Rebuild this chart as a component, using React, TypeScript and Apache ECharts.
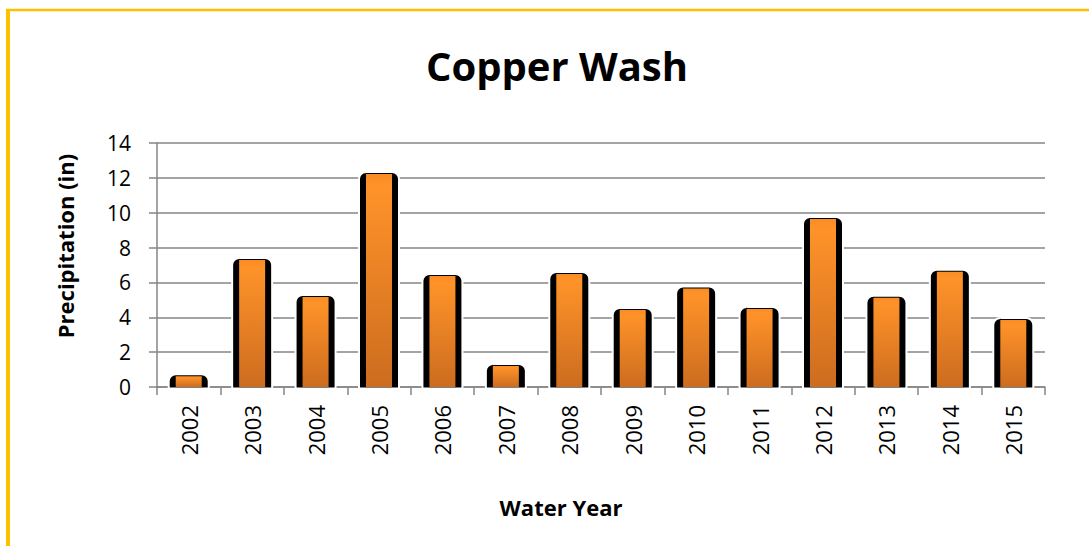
import React, { useEffect, useRef } from "react";
import * as echarts from "echarts";

const categories = ["2002", "2003", "2004", "2005", "2006", "2007", "2008", "2009", "2010", "2011", "2012", "2013", "2014", "2015"];
const precipitation = [0.73, 7.4, 5.28, 12.33, 6.48, 1.32, 6.6, 4.53, 5.76, 4.59, 9.75, 5.24, 6.73, 3.96];
const yTicks = { min: 0, max: 14, interval: 2 };

const FONT = "'Open Sans', 'Liberation Sans', sans-serif";

export default function App() {
  const ref = useRef<HTMLDivElement>(null);
  useEffect(() => {
    if (!ref.current) return;
    const chart = echarts.init(ref.current, null, { renderer: "svg" });
    const data = categories.map((c, i) => [i, precipitation[i]]);
    chart.setOption({
      animation: false,
      backgroundColor: "#ffffff",
      title: {
        text: "Copper Wash",
        left: 552,
        top: 40,
        textAlign: "center",
        textStyle: { fontFamily: FONT, fontWeight: "bold", fontSize: 40, color: "#000" },
      },
      graphic: [
        { type: "line", shape: { x1: 8, y1: 10, x2: 8, y2: 546 }, style: { stroke: "#FFC000", lineWidth: 4 } },
        { type: "line", shape: { x1: 6, y1: 10, x2: 1089, y2: 10 }, style: { stroke: "#FFC000", lineWidth: 2.5 } },
        {
          type: "text",
          x: 65,
          y: 246,
          rotation: Math.PI / 2,
          style: {
            text: "Precipitation (in)",
            fontFamily: FONT,
            fontWeight: "bold",
            fontSize: 22,
            fill: "#000",
            textAlign: "center",
            textVerticalAlign: "middle",
          },
        },
        {
          type: "text",
          x: 561,
          y: 507,
          style: {
            text: "Water Year",
            fontFamily: FONT,
            fontWeight: "bold",
            fontSize: 22,
            fill: "#000",
            textAlign: "center",
            textVerticalAlign: "middle",
          },
        },
      ],
      grid: { left: 157, right: 44, top: 143, bottom: 159 },
      xAxis: {
        type: "category",
        data: categories,
        axisLine: { lineStyle: { color: "#868686", width: 1.5 } },
        axisTick: { show: true, length: 8, lineStyle: { color: "#868686", width: 1.5 } },
        axisLabel: { rotate: 90, margin: 18, fontFamily: FONT, fontSize: 22, color: "#000" },
      },
      yAxis: {
        type: "value",
        min: yTicks.min,
        max: yTicks.max,
        interval: yTicks.interval,
        axisLine: { show: true, lineStyle: { color: "#868686", width: 1.5 } },
        axisTick: { show: true, length: 8, lineStyle: { color: "#868686", width: 1.5 } },
        axisLabel: { margin: 26, fontFamily: FONT, fontSize: 21, color: "#000" },
        splitLine: { lineStyle: { color: "#868686", width: 1.5 } },
      },
      series: [
        {
          type: "custom",
          data,
          encode: { x: 0, y: 1 },
          renderItem: (params: any, api: any) => {
            const top = api.coord([api.value(0), api.value(1)]);
            const base = api.coord([api.value(0), 0]);
            const cx = top[0];
            const outerW = 40;
            const innerW = 26;
            const h = base[1] - top[1];
            return {
              type: "group",
              children: [
                {
                  type: "rect",
                  shape: { x: cx - outerW / 2, y: top[1], width: outerW, height: h + 1.5, r: [7, 7, 0, 0] },
                  style: { fill: "#000", stroke: "#fff", lineWidth: 2 },
                },
                {
                  type: "rect",
                  shape: { x: cx - innerW / 2, y: top[1] + 2, width: innerW, height: Math.max(h - 2, 0) },
                  style: {
                    fill: new echarts.graphic.LinearGradient(0, 0, 0, 1, [
                      { offset: 0, color: "#F98C26" },
                      { offset: 0.06, color: "#FF9329" },
                      { offset: 1, color: "#CC6C1F" },
                    ]),
                  },
                },
              ],
            };
          },
        },
      ],
    });
    return () => chart.dispose();
  }, []);
  return (
    <div style={{ position: "fixed", left: 0, top: 0, width: 1089, height: 546 }}>
      <div ref={ref} style={{ width: 1089, height: 546 }} />
    </div>
  );
}
